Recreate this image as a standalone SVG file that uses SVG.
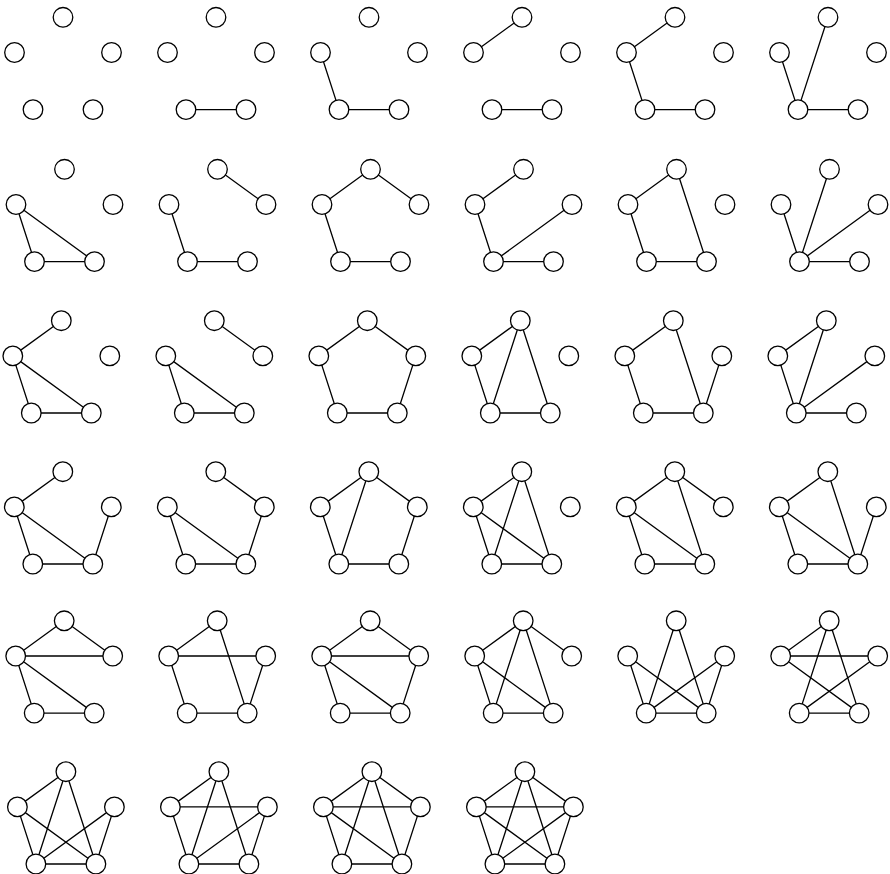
<svg xmlns="http://www.w3.org/2000/svg" width="890" height="874" viewBox="0 0 890 874">
<style>
line{stroke:#000;stroke-width:1.3;stroke-linecap:round}
.e{stroke:#000;stroke-width:1.3}
circle{fill:#fff;stroke:#000;stroke-width:1.3}
</style>
<defs>
<circle id="nT" cx="0" cy="-51" r="9.8"/>
<circle id="nL" cx="-48.5" cy="-15.8" r="9.8"/>
<circle id="nR" cx="48.5" cy="-15.8" r="9.8"/>
<circle id="nA" cx="-30" cy="41.3" r="9.8"/>
<circle id="nB" cx="30" cy="41.3" r="9.8"/>
<line id="TL" x1="0" y1="-51" x2="-48.5" y2="-15.8"/>
<line id="TR" x1="0" y1="-51" x2="48.5" y2="-15.8"/>
<line id="TA" x1="0" y1="-51" x2="-30" y2="41.3"/>
<line id="TB" x1="0" y1="-51" x2="30" y2="41.3"/>
<line id="LR" x1="-48.5" y1="-15.8" x2="48.5" y2="-15.8"/>
<line id="LA" x1="-48.5" y1="-15.8" x2="-30" y2="41.3"/>
<line id="LB" x1="-48.5" y1="-15.8" x2="30" y2="41.3"/>
<line id="RA" x1="48.5" y1="-15.8" x2="-30" y2="41.3"/>
<line id="RB" x1="48.5" y1="-15.8" x2="30" y2="41.3"/>
<line id="AB" x1="-30" y1="41.3" x2="30" y2="41.3"/>
</defs>

<!-- Row 1 -->
<g id="g1" transform="translate(63,68.3)"><g class="e"></g>
<g id="g1T"><use href="#nT"/></g><g id="g1L"><use href="#nL"/></g><g id="g1R"><use href="#nR"/></g><g id="g1A"><use href="#nA"/></g><g id="g1B"><use href="#nB"/></g></g>
<g id="g2" transform="translate(216,68.3)"><g class="e"><use href="#AB"/></g>
<g id="g2T"><use href="#nT"/></g><g id="g2L"><use href="#nL"/></g><g id="g2R"><use href="#nR"/></g><g id="g2A"><use href="#nA"/></g><g id="g2B"><use href="#nB"/></g></g>
<g id="g3" transform="translate(369,68.3)"><g class="e"><use href="#LA"/><use href="#AB"/></g>
<g id="g3T"><use href="#nT"/></g><g id="g3L"><use href="#nL"/></g><g id="g3R"><use href="#nR"/></g><g id="g3A"><use href="#nA"/></g><g id="g3B"><use href="#nB"/></g></g>
<g id="g4" transform="translate(522,68.3)"><g class="e"><use href="#TL"/><use href="#AB"/></g>
<g id="g4T"><use href="#nT"/></g><g id="g4L"><use href="#nL"/></g><g id="g4R"><use href="#nR"/></g><g id="g4A"><use href="#nA"/></g><g id="g4B"><use href="#nB"/></g></g>
<g id="g5" transform="translate(675,68.3)"><g class="e"><use href="#TL"/><use href="#LA"/><use href="#AB"/></g>
<g id="g5T"><use href="#nT"/></g><g id="g5L"><use href="#nL"/></g><g id="g5R"><use href="#nR"/></g><g id="g5A"><use href="#nA"/></g><g id="g5B"><use href="#nB"/></g></g>
<g id="g6" transform="translate(828,68.3)"><g class="e"><use href="#LA"/><use href="#TA"/><use href="#AB"/></g>
<g id="g6T"><use href="#nT"/></g><g id="g6L"><use href="#nL"/></g><g id="g6R"><use href="#nR"/></g><g id="g6A"><use href="#nA"/></g><g id="g6B"><use href="#nB"/></g></g>

<!-- Row 2 -->
<g id="g7" transform="translate(64.5,220.3)"><g class="e"><use href="#LA"/><use href="#LB"/><use href="#AB"/></g>
<g id="g7T"><use href="#nT"/></g><g id="g7L"><use href="#nL"/></g><g id="g7R"><use href="#nR"/></g><g id="g7A"><use href="#nA"/></g><g id="g7B"><use href="#nB"/></g></g>
<g id="g8" transform="translate(217.5,220.3)"><g class="e"><use href="#TR"/><use href="#LA"/><use href="#AB"/></g>
<g id="g8T"><use href="#nT"/></g><g id="g8L"><use href="#nL"/></g><g id="g8R"><use href="#nR"/></g><g id="g8A"><use href="#nA"/></g><g id="g8B"><use href="#nB"/></g></g>
<g id="g9" transform="translate(370.5,220.3)"><g class="e"><use href="#TL"/><use href="#TR"/><use href="#LA"/><use href="#AB"/></g>
<g id="g9T"><use href="#nT"/></g><g id="g9L"><use href="#nL"/></g><g id="g9R"><use href="#nR"/></g><g id="g9A"><use href="#nA"/></g><g id="g9B"><use href="#nB"/></g></g>
<g id="g10" transform="translate(523.5,220.3)"><g class="e"><use href="#TL"/><use href="#LA"/><use href="#AB"/><use href="#RA"/></g>
<g id="g10T"><use href="#nT"/></g><g id="g10L"><use href="#nL"/></g><g id="g10R"><use href="#nR"/></g><g id="g10A"><use href="#nA"/></g><g id="g10B"><use href="#nB"/></g></g>
<g id="g11" transform="translate(676.5,220.3)"><g class="e"><use href="#TL"/><use href="#LA"/><use href="#AB"/><use href="#TB"/></g>
<g id="g11T"><use href="#nT"/></g><g id="g11L"><use href="#nL"/></g><g id="g11R"><use href="#nR"/></g><g id="g11A"><use href="#nA"/></g><g id="g11B"><use href="#nB"/></g></g>
<g id="g12" transform="translate(829.5,220.3)"><g class="e"><use href="#LA"/><use href="#TA"/><use href="#RA"/><use href="#AB"/></g>
<g id="g12T"><use href="#nT"/></g><g id="g12L"><use href="#nL"/></g><g id="g12R"><use href="#nR"/></g><g id="g12A"><use href="#nA"/></g><g id="g12B"><use href="#nB"/></g></g>

<!-- Row 3 -->
<g id="g13" transform="translate(61.3,371.7)"><g class="e"><use href="#TL"/><use href="#LA"/><use href="#LB"/><use href="#AB"/></g>
<g id="g13T"><use href="#nT"/></g><g id="g13L"><use href="#nL"/></g><g id="g13R"><use href="#nR"/></g><g id="g13A"><use href="#nA"/></g><g id="g13B"><use href="#nB"/></g></g>
<g id="g14" transform="translate(214.3,371.7)"><g class="e"><use href="#TR"/><use href="#LA"/><use href="#LB"/><use href="#AB"/></g>
<g id="g14T"><use href="#nT"/></g><g id="g14L"><use href="#nL"/></g><g id="g14R"><use href="#nR"/></g><g id="g14A"><use href="#nA"/></g><g id="g14B"><use href="#nB"/></g></g>
<g id="g15" transform="translate(367.3,371.7)"><g class="e"><use href="#TL"/><use href="#TR"/><use href="#LA"/><use href="#RB"/><use href="#AB"/></g>
<g id="g15T"><use href="#nT"/></g><g id="g15L"><use href="#nL"/></g><g id="g15R"><use href="#nR"/></g><g id="g15A"><use href="#nA"/></g><g id="g15B"><use href="#nB"/></g></g>
<g id="g16" transform="translate(520.3,371.7)"><g class="e"><use href="#TL"/><use href="#LA"/><use href="#TA"/><use href="#TB"/><use href="#AB"/></g>
<g id="g16T"><use href="#nT"/></g><g id="g16L"><use href="#nL"/></g><g id="g16R"><use href="#nR"/></g><g id="g16A"><use href="#nA"/></g><g id="g16B"><use href="#nB"/></g></g>
<g id="g17" transform="translate(673.3,371.7)"><g class="e"><use href="#TL"/><use href="#LA"/><use href="#AB"/><use href="#TB"/><use href="#RB"/></g>
<g id="g17T"><use href="#nT"/></g><g id="g17L"><use href="#nL"/></g><g id="g17R"><use href="#nR"/></g><g id="g17A"><use href="#nA"/></g><g id="g17B"><use href="#nB"/></g></g>
<g id="g18" transform="translate(826.3,371.7)"><g class="e"><use href="#TL"/><use href="#TA"/><use href="#LA"/><use href="#RA"/><use href="#AB"/></g>
<g id="g18T"><use href="#nT"/></g><g id="g18L"><use href="#nL"/></g><g id="g18R"><use href="#nR"/></g><g id="g18A"><use href="#nA"/></g><g id="g18B"><use href="#nB"/></g></g>

<!-- Row 4 -->
<g id="g19" transform="translate(62.8,522.7)"><g class="e"><use href="#TL"/><use href="#LA"/><use href="#LB"/><use href="#AB"/><use href="#RB"/></g>
<g id="g19T"><use href="#nT"/></g><g id="g19L"><use href="#nL"/></g><g id="g19R"><use href="#nR"/></g><g id="g19A"><use href="#nA"/></g><g id="g19B"><use href="#nB"/></g></g>
<g id="g20" transform="translate(215.8,522.7)"><g class="e"><use href="#TR"/><use href="#LA"/><use href="#LB"/><use href="#AB"/><use href="#RB"/></g>
<g id="g20T"><use href="#nT"/></g><g id="g20L"><use href="#nL"/></g><g id="g20R"><use href="#nR"/></g><g id="g20A"><use href="#nA"/></g><g id="g20B"><use href="#nB"/></g></g>
<g id="g21" transform="translate(368.8,522.7)"><g class="e"><use href="#TL"/><use href="#TR"/><use href="#TA"/><use href="#LA"/><use href="#RB"/><use href="#AB"/></g>
<g id="g21T"><use href="#nT"/></g><g id="g21L"><use href="#nL"/></g><g id="g21R"><use href="#nR"/></g><g id="g21A"><use href="#nA"/></g><g id="g21B"><use href="#nB"/></g></g>
<g id="g22" transform="translate(521.8,522.7)"><g class="e"><use href="#TL"/><use href="#TA"/><use href="#TB"/><use href="#LA"/><use href="#LB"/><use href="#AB"/></g>
<g id="g22T"><use href="#nT"/></g><g id="g22L"><use href="#nL"/></g><g id="g22R"><use href="#nR"/></g><g id="g22A"><use href="#nA"/></g><g id="g22B"><use href="#nB"/></g></g>
<g id="g23" transform="translate(674.8,522.7)"><g class="e"><use href="#TL"/><use href="#TR"/><use href="#TB"/><use href="#LA"/><use href="#LB"/><use href="#AB"/></g>
<g id="g23T"><use href="#nT"/></g><g id="g23L"><use href="#nL"/></g><g id="g23R"><use href="#nR"/></g><g id="g23A"><use href="#nA"/></g><g id="g23B"><use href="#nB"/></g></g>
<g id="g24" transform="translate(827.8,522.7)"><g class="e"><use href="#TL"/><use href="#TB"/><use href="#LA"/><use href="#LB"/><use href="#RB"/><use href="#AB"/></g>
<g id="g24T"><use href="#nT"/></g><g id="g24L"><use href="#nL"/></g><g id="g24R"><use href="#nR"/></g><g id="g24A"><use href="#nA"/></g><g id="g24B"><use href="#nB"/></g></g>

<!-- Row 5 -->
<g id="g25" transform="translate(64.2,671.8)"><g class="e"><use href="#TL"/><use href="#TR"/><use href="#LR"/><use href="#LA"/><use href="#LB"/><use href="#AB"/></g>
<g id="g25T"><use href="#nT"/></g><g id="g25L"><use href="#nL"/></g><g id="g25R"><use href="#nR"/></g><g id="g25A"><use href="#nA"/></g><g id="g25B"><use href="#nB"/></g></g>
<g id="g26" transform="translate(217.2,671.8)"><g class="e"><use href="#TL"/><use href="#TB"/><use href="#LR"/><use href="#LA"/><use href="#RB"/><use href="#AB"/></g>
<g id="g26T"><use href="#nT"/></g><g id="g26L"><use href="#nL"/></g><g id="g26R"><use href="#nR"/></g><g id="g26A"><use href="#nA"/></g><g id="g26B"><use href="#nB"/></g></g>
<g id="g27" transform="translate(370.2,671.8)"><g class="e"><use href="#TL"/><use href="#TR"/><use href="#LR"/><use href="#LA"/><use href="#LB"/><use href="#RB"/><use href="#AB"/></g>
<g id="g27T"><use href="#nT"/></g><g id="g27L"><use href="#nL"/></g><g id="g27R"><use href="#nR"/></g><g id="g27A"><use href="#nA"/></g><g id="g27B"><use href="#nB"/></g></g>
<g id="g28" transform="translate(523.2,671.8)"><g class="e"><use href="#TL"/><use href="#TR"/><use href="#TA"/><use href="#TB"/><use href="#LA"/><use href="#LB"/><use href="#AB"/></g>
<g id="g28T"><use href="#nT"/></g><g id="g28L"><use href="#nL"/></g><g id="g28R"><use href="#nR"/></g><g id="g28A"><use href="#nA"/></g><g id="g28B"><use href="#nB"/></g></g>
<g id="g29" transform="translate(676.2,671.8)"><g class="e"><use href="#TA"/><use href="#TB"/><use href="#LA"/><use href="#LB"/><use href="#RA"/><use href="#RB"/><use href="#AB"/></g>
<g id="g29T"><use href="#nT"/></g><g id="g29L"><use href="#nL"/></g><g id="g29R"><use href="#nR"/></g><g id="g29A"><use href="#nA"/></g><g id="g29B"><use href="#nB"/></g></g>
<g id="g30" transform="translate(829.2,671.8)"><g class="e"><use href="#TL"/><use href="#TA"/><use href="#TB"/><use href="#LR"/><use href="#LB"/><use href="#RA"/><use href="#AB"/></g>
<g id="g30T"><use href="#nT"/></g><g id="g30L"><use href="#nL"/></g><g id="g30R"><use href="#nR"/></g><g id="g30A"><use href="#nA"/></g><g id="g30B"><use href="#nB"/></g></g>

<!-- Row 6 -->
<g id="g31" transform="translate(65.9,822.7)"><g class="e"><use href="#TL"/><use href="#TA"/><use href="#TB"/><use href="#LA"/><use href="#LB"/><use href="#RA"/><use href="#RB"/><use href="#AB"/></g>
<g id="g31T"><use href="#nT"/></g><g id="g31L"><use href="#nL"/></g><g id="g31R"><use href="#nR"/></g><g id="g31A"><use href="#nA"/></g><g id="g31B"><use href="#nB"/></g></g>
<g id="g32" transform="translate(218.9,822.7)"><g class="e"><use href="#TL"/><use href="#TA"/><use href="#TB"/><use href="#LR"/><use href="#LA"/><use href="#RA"/><use href="#RB"/><use href="#AB"/></g>
<g id="g32T"><use href="#nT"/></g><g id="g32L"><use href="#nL"/></g><g id="g32R"><use href="#nR"/></g><g id="g32A"><use href="#nA"/></g><g id="g32B"><use href="#nB"/></g></g>
<g id="g33" transform="translate(371.9,822.7)"><g class="e"><use href="#TL"/><use href="#TR"/><use href="#TA"/><use href="#TB"/><use href="#LR"/><use href="#LA"/><use href="#LB"/><use href="#RB"/><use href="#AB"/></g>
<g id="g33T"><use href="#nT"/></g><g id="g33L"><use href="#nL"/></g><g id="g33R"><use href="#nR"/></g><g id="g33A"><use href="#nA"/></g><g id="g33B"><use href="#nB"/></g></g>
<g id="g34" transform="translate(524.9,822.7)"><g class="e"><use href="#TL"/><use href="#TR"/><use href="#TA"/><use href="#TB"/><use href="#LR"/><use href="#LA"/><use href="#LB"/><use href="#RA"/><use href="#RB"/><use href="#AB"/></g>
<g id="g34T"><use href="#nT"/></g><g id="g34L"><use href="#nL"/></g><g id="g34R"><use href="#nR"/></g><g id="g34A"><use href="#nA"/></g><g id="g34B"><use href="#nB"/></g></g>
</svg>
